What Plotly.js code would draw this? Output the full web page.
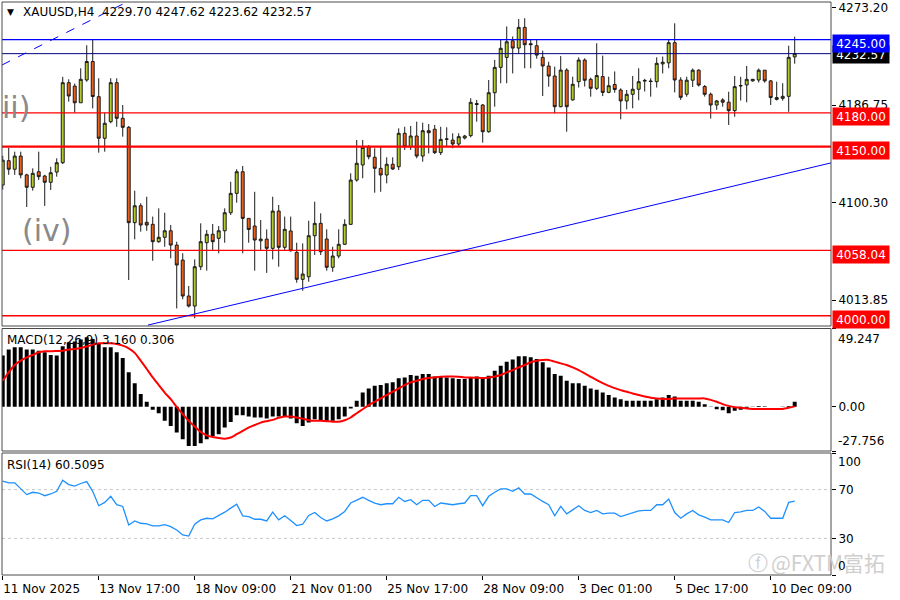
<!DOCTYPE html>
<html><head><meta charset="utf-8">
<script src="https://cdn.plot.ly/plotly-3.0.1.min.js"></script>
<style>html,body{margin:0;padding:0;background:#fff;}#chart{width:900px;height:600px;}</style>
</head><body><div id="chart"></div>
<script>
const openP = [4116,4137.6,4130,4141.7,4125,4114,4127.8,4124,4118.4,4127.5,
4135.8,4206.8,4203.8,4189,4209.2,4225.6,4194.4,4157.5,4172.2,4206.8,
4175.2,4167.2,4082.6,4097.6,4082.9,4081.1,4065.7,4069.6,4075.4,4062.7,
4049.4,4017.5,4008.6,4043.5,4064.8,4072.3,4068.7,4075.4,4091.4,4108.6,
4127.8,4086.4,4079.6,4066.5,4068,4059.8,4092.9,4060.7,4075.2,4056.3,
4032.3,4034.6,4071,4082,4068.1,4043,4053,4063.4,4081.1,4120.4,
4133.8,4150,4140.6,4130.8,4124.9,4134.4,4132.2,4161.9,4150,4159.5,
4141.7,4164.2,4165.5,4144.7,4156.9,4155.9,4152.4,4157.7,4159.8,4188.3,
4187,4163.3,4197.9,4220.4,4229.2,4244,4237.5,4255.9,4241.4,4239.6,
4229.3,4221.6,4212.7,4185.5,4218,4191.5,4207.7,4226.9,4209.8,4201.8,
4212.2,4198.2,4205.2,4200.3,4190.6,4196.5,4201,4208.2,4208.3,4207.7,
4223.5,4224.4,4242.3,4209.2,4196.6,4209,4217.9,4203.4,4196.5,4187,
4191.5,4189.5,4182,4203.9,4204.8,4208.4,4209.2,4217.9,4208.4,4193.6,
4192.9,4194.7,4229.70];
const highP = [4142,4149,4145.6,4145.6,4126,4130.8,4145.6,4125,4132.2,4139.7,
4212,4209.8,4206,4219.6,4240,4244.7,4210.7,4180.2,4210.7,4210.7,
4187,4168.4,4111,4099.8,4105.6,4088,4095.3,4091.4,4080.5,4065.7,
4055.4,4026.4,4050,4082,4076.1,4081.4,4079.6,4095.3,4118.9,4130,
4132.9,4086.4,4110,4084.9,4076.6,4105.6,4098.3,4088,4088,4064.8,
4064.2,4084.3,4101.2,4090.9,4076.7,4061.2,4076.7,4085.6,4126.4,4156,
4156,4151.5,4148.6,4150,4140.6,4140.6,4166.3,4167.7,4168.4,4172.2,
4171.3,4170.1,4169.3,4167.7,4167.2,4161.9,4161.9,4160.4,4193,4191.5,
4187.9,4209.2,4227,4244.7,4256.7,4247.8,4263.3,4264,4244.7,4244.7,
4235.2,4225.4,4221,4230.4,4219.6,4212.1,4229.3,4228.4,4211.2,4241.8,
4230.8,4212.1,4216.8,4201.8,4200.3,4212.7,4219.6,4210.2,4210.7,4229.3,
4230,4244.7,4259.5,4211.6,4212.1,4219.4,4218.7,4204.7,4198,4191.5,
4193,4198.8,4212.7,4212,4221.6,4210,4219.4,4218,4209.2,4207.7,
4206.3,4239.6,4247.62];
const lowP = [4112,4125,4125,4122,4096.5,4111,4120.4,4097.5,4111.6,4123.4,
4134.6,4190,4180.2,4189,4207.7,4184,4144.7,4145.6,4170.8,4167.7,
4158.9,4031.7,4067.8,4074.6,4075.4,4048.8,4064.8,4061.2,4051,4006.5,
4014.6,4007.4,3997.7,4040.5,4040,4058,4055.4,4064.8,4089.4,4100.3,
4055.4,4064.8,4040,4058,4038,4050,4043.5,4058.3,4056.8,4029.3,
4022.2,4030.2,4053.9,4053.9,4040,4039,4051,4062.8,4080.5,4119,
4122,4138.8,4109.2,4110,4117.5,4129.3,4129.3,4147.1,4147.1,4139.7,
4136.7,4144,4143.5,4142.6,4150,4148.6,4150,4156.5,4158.3,4172.2,
4153.6,4162.4,4185.5,4206.3,4206.3,4215,4232.3,4219.6,4219.6,4228.1,
4195,4203.2,4179.6,4185,4163.3,4190.9,4202.5,4203.4,4194.4,4200.3,
4194.9,4197.5,4197.9,4174.3,4183.2,4184.1,4191.2,4199,4194.4,4202.5,
4215,4219.6,4198.2,4191.5,4194.4,4203,4203.4,4194.5,4175,4182.7,
4185.5,4169.3,4176.6,4191,4189.4,4207.7,4207,4206.8,4187,4191,
4190.9,4181,4223.62];
const closeP = [4138,4130,4141.7,4125,4114,4126.4,4123.4,4118.4,4126.9,4135.8,
4206.8,4195,4189,4209.8,4225.6,4194.5,4157.5,4170.8,4206.8,4175.2,
4167.2,4082.6,4097.6,4080.5,4080.5,4065.7,4069.6,4075.4,4062.7,4045,
4017.5,4008.6,4043.5,4065.7,4072.3,4065.7,4075.4,4091.4,4108.6,4127.8,
4086.4,4076.6,4067.2,4068,4059.8,4092.9,4060.7,4076.7,4057.7,4032.3,
4037,4071,4082,4056.8,4043,4053,4063.4,4081.1,4120.4,4135.3,
4149.4,4141.1,4130.8,4124.9,4134.4,4130.2,4161.9,4150,4159.5,4141.7,
4164.2,4162.4,4144.7,4156.5,4156.7,4152.4,4158.9,4159.5,4189.4,4187.5,
4163.3,4197.9,4220.4,4237.3,4243.1,4237.5,4255.9,4240.5,4240.6,4231.3,
4221.6,4212.7,4185.5,4218,4185.5,4205.4,4226.9,4208.9,4201.8,4213.1,
4198.2,4204.1,4200.7,4190.6,4196.5,4201,4207.7,4208.8,4207.9,4224,
4224.9,4242.3,4209.2,4193.8,4209,4217.9,4204.7,4196.5,4187,4190.6,
4189.5,4182,4203.3,4204.2,4209.8,4209.8,4217.9,4208.4,4193.6,4192,
4194.7,4229.3,4232.57];
const macdHist = [32.2,36.0,37.4,37.4,36.0,36.0,35.3,34.3,32.6,32.2,
38.1,40.6,41.0,42.3,43.7,42.7,39.5,37.4,37.4,34.3,
30.7,21.7,14.9,8.0,3.2,-1.9,-4.0,-8.8,-12.0,-16.2,
-20.4,-24.6,-24.6,-22.9,-20.4,-18.3,-17.2,-13.0,-9.5,-5.3,
-5.3,-6.1,-6.7,-6.7,-7.4,-6.1,-6.1,-6.1,-7.4,-10.3,
-12.0,-9.9,-7.8,-8.2,-8.8,-8.8,-7.8,-6.1,-1.1,3.8,
9.0,11.6,13.2,13.7,14.9,15.4,17.9,18.5,20.0,19.6,
20.6,20.6,19.1,18.8,18.5,17.9,17.5,17.5,18.5,19.1,
18.5,19.6,22.7,25.9,28.4,29.7,31.8,31.8,31.1,30.1,
28.0,24.8,20.6,19.6,16.4,14.9,14.9,13.2,11.6,10.7,
9.0,7.4,5.9,4.8,3.8,3.8,3.8,3.8,3.8,4.8,
5.9,7.4,6.5,3.8,3.8,3.8,3.2,1.7,0.2,-1.5,
-2.1,-4.0,-2.5,-1.9,-0.6,0.2,0.6,0.4,0.1,0.05,
-0.1,0.6,3.160];
const macdSignal = [16.4,21.7,26.3,29.0,31.1,32.6,34.3,34.9,34.9,35.1,
35.3,36.0,36.4,37.0,37.9,39.1,40.0,40.0,40.0,39.5,
38.5,36.8,33.9,29.0,23.8,18.5,13.7,9.0,4.8,0.0,
-4.6,-8.8,-12.4,-15.8,-17.9,-18.9,-19.6,-20.0,-19.3,-17.2,
-15.1,-13.0,-11.4,-9.9,-9.0,-8.2,-6.9,-6.1,-6.1,-6.7,
-7.4,-8.4,-8.8,-8.8,-9.0,-9.3,-9.3,-8.4,-6.7,-4.0,
-1.5,1.1,3.2,5.3,7.4,9.5,11.6,13.7,15.4,16.4,
17.5,18.1,18.5,18.9,19.1,19.1,18.9,18.5,18.5,18.3,
18.1,18.5,19.1,20.0,21.7,23.1,24.8,26.3,28.0,29.0,
29.5,29.5,28.4,27.3,26.3,24.8,23.1,21.0,18.9,16.8,
14.9,13.2,11.8,10.5,9.5,8.4,7.4,6.5,5.7,5.3,
5.0,5.0,5.3,5.3,5.3,5.3,5.3,5.3,4.4,3.2,
1.7,0.6,-0.2,-0.6,-1.1,-1.3,-1.3,-1.3,-1.3,-1.3,
-1.3,-0.6,0.306];
const rsiValues = [76.9,75.5,75.5,70.6,65.9,67.8,67.2,65.0,66.4,68.6,
77.7,74.1,72.8,75.0,76.6,68.6,56.8,59.5,64.5,57.6,
56.2,41.0,44.3,42.4,41.9,40.2,40.2,41.3,39.7,36.9,
32.8,31.9,41.6,45.2,46.5,46.0,48.5,51.5,54.8,58.1,
48.5,47.9,45.7,45.7,44.3,51.5,45.2,48.5,44.6,40.5,
41.6,48.8,51.2,47.1,44.3,46.0,48.5,52.1,59.0,61.7,
63.7,61.2,59.0,57.6,58.4,58.4,63.7,60.3,61.7,57.6,
61.2,61.2,56.2,59.0,58.4,57.6,58.4,59.0,65.0,65.0,
56.8,64.5,67.8,70.6,70.6,68.6,71.4,66.4,66.4,63.1,
60.3,57.6,48.5,56.2,50.1,53.4,56.8,52.9,51.2,52.9,
50.1,50.7,50.7,47.9,49.3,50.7,52.6,52.9,52.9,57.6,
57.6,62.3,51.2,46.5,50.1,52.9,49.3,47.4,45.2,45.2,
45.2,43.0,51.2,51.8,52.9,52.9,55.7,52.1,46.5,46.5,
46.5,59.5,60.51];
const tickIndex = [0,16,32,48,64,80,96,112,128];
const tickLabels = ['11 Nov 2025','13 Nov 17:00','18 Nov 09:00','21 Nov 01:00','25 Nov 17:00','28 Nov 09:00','3 Dec 01:00','5 Dec 17:00','10 Dec 09:00'];
const priceTicks = [4013.85, 4100.30, 4186.75, 4273.20];
const levelValues = [4232.57, 4245.00, 4180.00, 4150.00, 4058.04, 4000.00];
const levelColors = ['#000080', '#0000ff', '#ff0000', '#ff0000', '#ff0000', '#ff0000'];
const levelBoxColors = ['#000000', '#0000ff', '#ff0000', '#ff0000', '#ff0000', '#ff0000'];
const levelWidths = [1, 1.3, 1.4, 2.2, 1.4, 1.4];
const trendLines = [
  {x0: -0.12, y0: 4222.5, x1: 23, y1: 4284.6, dash: 'dash', width: 1},
  {x0: 24.2, y0: 3991.7, x1: 138.2, y1: 4135.8, dash: 'solid', width: 1}
];
const macdRange = [-27.756, 49.247];
const priceRange = [3990.9, 4278.4];
const header = 'XAUUSD,H4  4229.70 4247.62 4223.62 4232.57';
const macdLabel = 'MACD(12,26,9) 3.160 0.306';
const rsiLabel = 'RSI(14) 60.5095';

const W = 900, H = 600, ML = 2, MR = 69, MT = 2, MB = 25;
const plotW = W - ML - MR, plotH = H - MT - MB;
const px = x => (x - ML) / plotW;
const py = y => (H - MB - y) / plotH;
const FONT = 'DejaVu Sans, Verdana, sans-serif';

const idx = openP.map((_, i) => i);

const mainDom = [py(326), py(2)];
const macdDom = [py(451), py(328.5)];
const rsiDom = [0, py(453)];

const traces = [
  {type: 'candlestick', x: idx, open: openP, high: highP, low: lowP, close: closeP,
   xaxis: 'x', yaxis: 'y', whiskerwidth: 0, hoverinfo: 'skip',
   increasing: {line: {color: '#1a1a1a', width: 1}, fillcolor: '#b4c92f'},
   decreasing: {line: {color: '#1a1a1a', width: 1}, fillcolor: '#e8601e'}},
  {type: 'bar', x: idx, y: macdHist, xaxis: 'x', yaxis: 'y2', width: 0.66,
   marker: {color: '#000000', line: {width: 0}}, hoverinfo: 'skip'},
  {type: 'scatter', mode: 'lines', x: idx, y: macdSignal, xaxis: 'x', yaxis: 'y2',
   line: {color: '#ff0000', width: 2, shape: 'spline', smoothing: 0.6}, hoverinfo: 'skip'},
  {type: 'scatter', mode: 'lines', x: idx, y: rsiValues, xaxis: 'x', yaxis: 'y3',
   line: {color: '#1e90ff', width: 1.3}, hoverinfo: 'skip'}
];

const shapes = [];
levelValues.forEach((v, k) => {
  shapes.push({type: 'line', xref: 'paper', x0: 0, x1: 1, yref: 'y', y0: v, y1: v,
    line: {color: levelColors[k], width: levelWidths[k]}});
});
trendLines.forEach(t => {
  shapes.push({type: 'line', xref: 'x', yref: 'y', x0: t.x0, y0: t.y0, x1: t.x1, y1: t.y1,
    line: {color: '#0000ff', width: t.width, dash: t.dash}});
});
[70, 30].forEach(v => shapes.push({type: 'line', xref: 'paper', x0: 0, x1: 1, yref: 'y3', y0: v, y1: v,
  layer: 'below', line: {color: '#c8c8c8', width: 1, dash: 'dot'}}));
[mainDom, macdDom, rsiDom].forEach(d => shapes.push({type: 'rect', xref: 'paper', yref: 'paper',
  x0: 0, x1: 1, y0: d[0], y1: d[1], line: {color: '#4a4a4a', width: 1}, fillcolor: 'rgba(0,0,0,0)'}));

const annotations = [];
const txt = (text, x, y, opts) => Object.assign({text, xref: 'paper', yref: 'paper', x: px(x), y: py(y),
  xanchor: 'left', yanchor: 'middle', showarrow: false, font: {family: FONT, size: 12, color: '#000'}}, opts || {});
annotations.push(txt('▼', 10, 12, {xanchor: 'center', font: {family: FONT, size: 9, color: '#000'}}));
annotations.push(txt(header, 21, 12));
annotations.push(txt(macdLabel, 5, 340));
annotations.push(txt(rsiLabel, 5, 465));
annotations.push(txt('(iii)', 32, 107, {xanchor: 'right', font: {family: FONT, size: 30, color: '#8a8a8a'}}));
annotations.push(txt('(iv)', 20, 230, {font: {family: FONT, size: 30, color: '#8a8a8a'}}));
annotations.push(txt('@FXTM富拓', 769, 562, {font: {family: 'Noto Sans CJK SC, sans-serif', size: 21, color: '#cfcfcf'}}));
annotations.push(txt('ⓕ', 746, 563, {font: {family: 'DejaVu Sans, sans-serif', size: 20, color: '#cfcfcf'}}));
const edge = (text, yref, y, shift) => ({text, xref: 'paper', x: 1, xanchor: 'left', xshift: 5,
  yref, y, yanchor: 'middle', yshift: shift, showarrow: false, font: {family: FONT, size: 12, color: '#000'}});
annotations.push(edge(macdRange[1].toFixed(3), 'y2', macdRange[1], -10));
annotations.push(edge(macdRange[0].toFixed(3), 'y2', macdRange[0], 10));
annotations.push(edge('100', 'y3', 100, -9));
annotations.push(edge('0', 'y3', 0, 9));
levelValues.forEach((v, k) => {
  annotations.push({text: v.toFixed(2), xref: 'paper', x: 1, xanchor: 'left', xshift: 1,
    yref: 'y', y: v, yanchor: 'middle', yshift: k === 0 ? -1 : -4, showarrow: false,
    bgcolor: levelBoxColors[k], width: 54, height: 15, borderpad: 1, align: 'center',
    font: {family: FONT, size: 12, color: '#ffffff'}});
});

const yBase = {side: 'right', showgrid: false, zeroline: false, ticks: 'outside', ticklen: 4,
  tickcolor: '#000', tickfont: {family: FONT, size: 12, color: '#000'}, showline: false, fixedrange: true};

const layout = {
  width: W, height: H, margin: {l: ML, r: MR, t: MT, b: MB},
  paper_bgcolor: '#ffffff', plot_bgcolor: '#ffffff', showlegend: false,
  xaxis: {anchor: 'y3', range: [-0.12, 138.05], tickvals: tickIndex, ticktext: tickLabels,
    ticks: 'outside', ticklen: 4, tickcolor: '#000', ticklabelposition: 'outside right',
    ticklabelstandoff: 3,
    tickfont: {family: FONT, size: 12, color: '#000'}, showgrid: false, zeroline: false,
    showline: false, rangeslider: {visible: false}, fixedrange: true},
  yaxis: Object.assign({}, yBase, {domain: mainDom, range: priceRange, anchor: 'x',
    tickvals: priceTicks, ticktext: priceTicks.map(v => v.toFixed(2))}),
  yaxis2: Object.assign({}, yBase, {domain: macdDom, range: macdRange, anchor: 'x',
    tickvals: [macdRange[0], 0, macdRange[1]], ticktext: ['', '0.00', '']}),
  yaxis3: Object.assign({}, yBase, {domain: rsiDom, range: [0, 100], anchor: 'x',
    tickvals: [0, 30, 70, 100], ticktext: ['', '30', '70', '']}),
  shapes, annotations
};

Plotly.newPlot('chart', traces, layout, {staticPlot: true, displayModeBar: false});
</script></body></html>
